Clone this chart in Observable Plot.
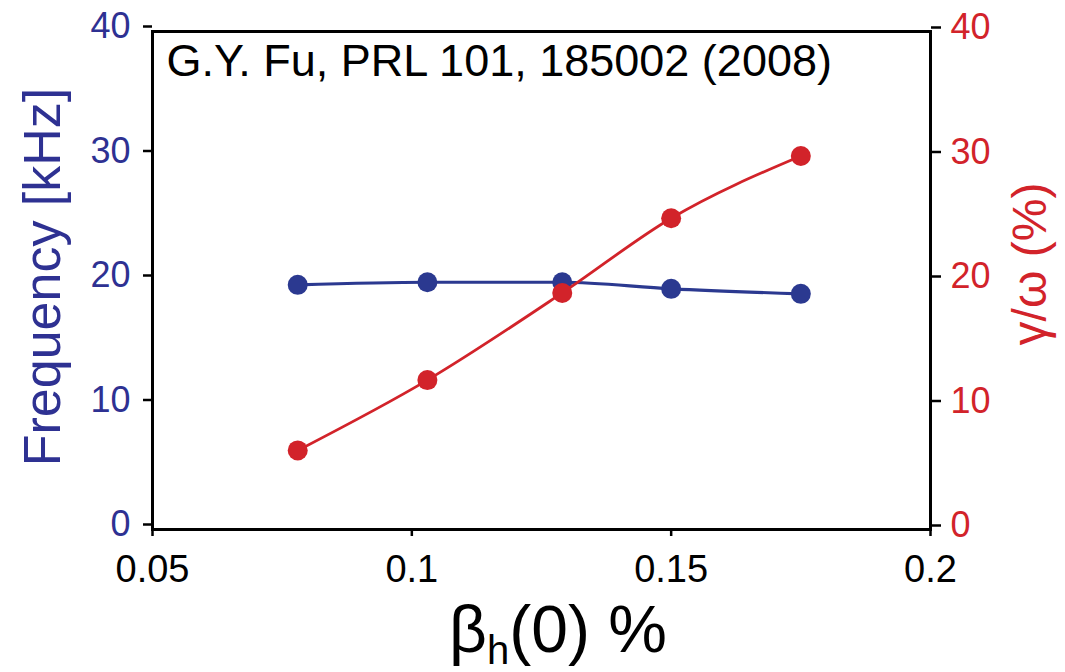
<!DOCTYPE html>
<html>
<head>
<meta charset="utf-8">
<script src="https://cdn.jsdelivr.net/npm/d3@7"></script>
<script src="https://cdn.jsdelivr.net/npm/@observablehq/plot@0.6"></script>
<style>
  html, body { margin: 0; padding: 0; background: #fff; }
  #chart svg { display: block; }
</style>
</head>
<body>
<div id="chart"></div>
<script>
// Data
const beta = [0.078, 0.103, 0.129, 0.150, 0.175];          // β_h(0) %
const frequency = [19.65, 19.86, 19.86, 19.33, 18.93];      // Frequency [kHz] (left axis)
const growth = [6.35, 12.0, 19.0, 25.0, 30.0];              // γ/ω (%) (right axis)
const xTicks = [0.05, 0.1, 0.15, 0.2];
const yTicks = [0, 10, 20, 30, 40];
const citation = "G.Y. Fu, PRL 101, 185002 (2008)";

const BLUE = "#2b3990";
const BLUE_TXT = "#2e3192";
const RED = "#d2232a";
const FONT = "'Liberation Sans', Arial, Helvetica, sans-serif";

const freqData = beta.map((b, i) => ({beta: b, value: frequency[i]}));
const growthData = beta.map((b, i) => ({beta: b, value: growth[i]}));

const chart = Plot.plot({
  width: 1065,
  height: 672,
  marginLeft: 152,
  marginRight: 135,
  marginTop: 31,
  marginBottom: 143,
  style: {fontFamily: FONT, background: "#fff", color: "black"},
  x: {domain: [0.05, 0.2]},
  y: {domain: [0, 40]},
  marks: [
    Plot.axisX({ticks: xTicks, tickFormat: d => String(d), tickSize: 7, tickPadding: 19,
      fontSize: 38, stroke: "black", color: "black", strokeWidth: 2.5, label: null}),
    Plot.axisY({anchor: "left", ticks: yTicks, tickSize: 9, tickPadding: 13, fontSize: 36,
      stroke: "black", color: BLUE_TXT, strokeWidth: 2.5, dy: -5, label: null}),
    Plot.axisY({anchor: "right", ticks: yTicks, tickSize: 10, tickPadding: 10, fontSize: 36,
      stroke: "black", color: RED, strokeWidth: 2.5, dy: -4, label: null}),
    Plot.frame({stroke: "black", strokeWidth: 3}),
    Plot.line(freqData, {x: "beta", y: "value", stroke: BLUE, strokeWidth: 3.2, curve: "monotone-x"}),
    Plot.dot(freqData, {x: "beta", y: "value", r: 10, fill: BLUE}),
    Plot.line(growthData, {x: "beta", y: "value", stroke: RED, strokeWidth: 2.8, curve: "monotone-x"}),
    Plot.dot(growthData, {x: "beta", y: "value", r: 10, fill: RED}),
    Plot.text([citation], {frameAnchor: "top-left", textAnchor: "start", lineAnchor: "top",
      dx: 14, dy: 13, fontSize: 45, fill: "black"})
  ]
});

document.getElementById("chart").appendChild(chart);

// Axis titles (with rotation and subscript) added as real SVG text
const svg = d3.select(chart);
svg.append("text")
  .attr("transform", "translate(60,277) rotate(-90)")
  .attr("text-anchor", "middle")
  .attr("font-family", FONT)
  .attr("font-size", 52)
  .attr("fill", BLUE_TXT)
  .text("Frequency [kHz]");

svg.append("text")
  .attr("transform", "translate(1046,264) rotate(-90)")
  .attr("text-anchor", "middle")
  .attr("font-family", FONT)
  .attr("font-size", 48)
  .attr("fill", RED)
  .text("γ/ω (%)");

const xl = svg.append("text")
  .attr("x", 449)
  .attr("y", 652)
  .attr("text-anchor", "start")
  .attr("font-family", FONT)
  .attr("font-size", 66)
  .attr("fill", "black");
xl.append("tspan").text("β");
xl.append("tspan").attr("font-size", 40).attr("dy", 12).text("h");
xl.append("tspan").attr("dy", -12).text("(0) %");
</script>
</body>
</html>
